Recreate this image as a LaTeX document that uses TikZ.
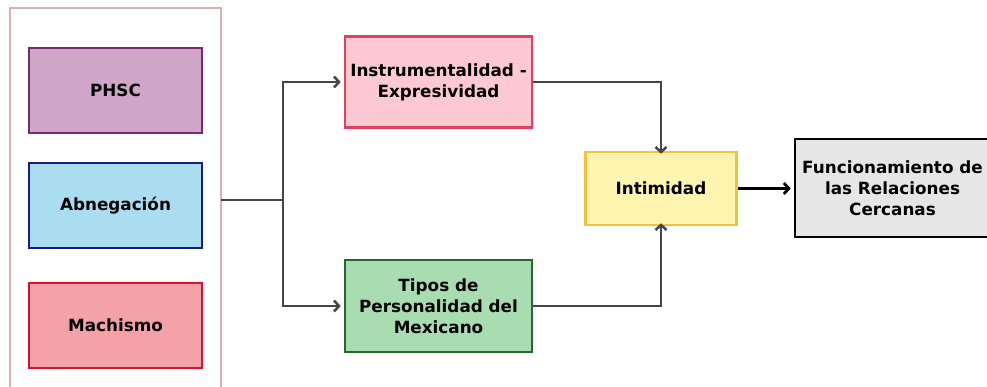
\documentclass[tikz,border=0pt]{standalone}
\usepackage{fontspec}
\setmainfont{DejaVu Sans}
\usetikzlibrary{arrows.meta}
\definecolor{phscF}{HTML}{D0A6C8}\definecolor{phscD}{HTML}{7A2870}
\definecolor{abnF}{HTML}{ABDDF1}\definecolor{abnD}{HTML}{1A1A8C}
\definecolor{macF}{HTML}{F4A1AA}\definecolor{macD}{HTML}{D8112C}
\definecolor{insF}{HTML}{FFC9D3}\definecolor{insD}{HTML}{E2405E}
\definecolor{tipF}{HTML}{A8DDB1}\definecolor{tipD}{HTML}{2B662B}
\definecolor{intF}{HTML}{FFF4B0}\definecolor{intD}{HTML}{F2C23E}
\definecolor{funF}{HTML}{E6E6E6}
\definecolor{contD}{HTML}{D9AFAF}
\definecolor{lineC}{HTML}{454545}
\tikzset{
  box/.style={draw, line width=2.6pt, align=center, font=\bfseries\fontsize{16.8}{21}\selectfont, inner sep=0pt},
  conn/.style={draw=lineC, line width=2.5pt, -{Straight Barb[length=5pt,width=11pt]}},
}
\begin{document}
\begin{tikzpicture}[x=1pt,y=-1pt]
\useasboundingbox (0,0) rectangle (987,387);
\clip (0,0) rectangle (987,387);
\fill[white] (0,0) rectangle (987,387);
% container
\draw[contD, line width=1.5pt] (10,8) rectangle (221,400);
\coordinate (contR) at (221,200);
% left boxes
\node[box, draw=phscD, fill=phscF, minimum width=173pt, minimum height=85pt] (phsc) at (115.5,90.5) {PHSC};
\node[box, draw=abnD, fill=abnF, minimum width=173pt, minimum height=85pt] (abn) at (115.5,205.5) {Abnegación};
\node[box, draw=macD, fill=macF, minimum width=173pt, minimum height=85pt] (mac) at (115.5,325.5) {Machismo};
% middle boxes
\node[box, draw=insD, fill=insF, minimum width=187pt, minimum height=91pt] (ins) at (438.5,82) {Instrumentalidad -\\Expresividad};
\node[box, draw=tipD, fill=tipF, minimum width=187pt, minimum height=92pt] (tip) at (438.5,306) {Tipos de\\Personalidad del\\Mexicano};
\node[box, draw=intD, fill=intF, minimum width=151pt, minimum height=73pt] (int) at (661,188.5) {Intimidad};
\node[box, draw=black, fill=funF, minimum width=195pt, minimum height=98pt] (fun) at (892.5,188) {Funcionamiento de\\las Relaciones\\Cercanas};
% connectors
\coordinate (split) at (283,200);
\draw[lineC, line width=2.5pt] (contR) -- (split);
\draw[conn] (split) |- ([xshift=-3pt]ins.west);
\draw[conn] (split) |- ([xshift=-3pt]tip.west);
\draw[conn] (ins.east) -| ([yshift=-3pt]int.north);
\draw[conn] (tip.east) -| ([yshift=3pt]int.south);
\draw[conn, draw=black, line width=2.8pt] (int.east) -- ([xshift=-3pt]fun.west |- int.east);
\end{tikzpicture}
\end{document}
